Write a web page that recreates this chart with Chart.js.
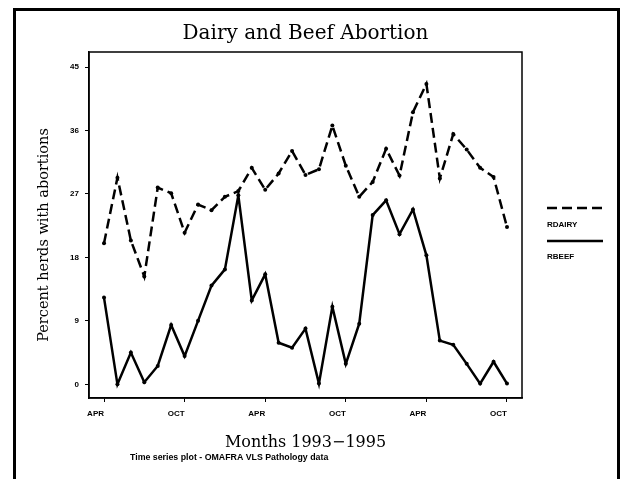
<!DOCTYPE html>
<html><head><meta charset="utf-8">
<script src="https://cdn.jsdelivr.net/npm/chart.js@4"></script>
<style>html,body{margin:0;padding:0;background:#fff;overflow:hidden}#wrap{width:623px;height:479px;position:relative}</style>
</head><body><div id="wrap"><canvas id="c" width="623" height="479"></canvas></div>
<script>
const months = ['1993-04','1993-05','1993-06','1993-07','1993-08','1993-09','1993-10','1993-11','1993-12',
  '1994-01','1994-02','1994-03','1994-04','1994-05','1994-06','1994-07','1994-08','1994-09','1994-10','1994-11','1994-12',
  '1995-01','1995-02','1995-03','1995-04','1995-05','1995-06','1995-07','1995-08','1995-09','1995-10'];
const rdairy = [20.0, 29.3, 20.4, 15.3, 27.9, 27.1, 21.5, 25.5, 24.7, 26.6, 27.4, 30.7, 27.6, 29.9, 33.1, 29.7,
  30.5, 36.7, 31.0, 26.6, 28.7, 33.4, 29.6, 38.6, 42.6, 29.2, 35.5, 33.3, 30.7, 29.4, 22.3];
const rbeef = [12.3, 0.0, 4.5, 0.3, 2.6, 8.4, 4.0, 9.0, 14.0, 16.3, 26.8, 11.9, 15.6, 5.9, 5.2, 7.9,
  0.1, 11.0, 2.9, 8.6, 24.0, 26.1, 21.3, 24.8, 18.3, 6.2, 5.6, 2.9, 0.1, 3.2, 0.1];
const yTicks = [0, 9, 18, 27, 36, 45];
const tickMonthNames = {'04': 'APR', '10': 'OCT'};
const seriesNames = ['RDAIRY', 'RBEEF'];
const titleText = 'Dairy and Beef Abortion';
const xTitle = 'Months 1993\u22121995';
const yTitle = 'Percent herds with abortions';
const footnote = 'Time series plot - OMAFRA VLS Pathology data';

const smallBold = {family: 'Liberation Sans', size: 8, weight: 'bold'};
const DASH = [10, 5];

const decor = {
  id: 'decor',
  beforeDraw(chart) {
    const ctx = chart.ctx;
    ctx.save(); ctx.fillStyle = '#fff'; ctx.fillRect(0, 0, chart.width, chart.height); ctx.restore();
  },
  afterDraw(chart) {
    const ctx = chart.ctx, a = chart.chartArea;
    ctx.save();
    ctx.strokeStyle = '#000'; ctx.fillStyle = '#000';
    // plot box
    ctx.lineWidth = 1.5;
    ctx.strokeRect(a.left, a.top, a.right - a.left, a.bottom - a.top);
    // title
    ctx.font = '20px "DejaVu Serif"';
    ctx.textAlign = 'center'; ctx.textBaseline = 'middle';
    ctx.fillText(titleText, (a.left + a.right) / 2, 34);
    // y title
    ctx.save();
    ctx.translate(44, 235); ctx.rotate(-Math.PI / 2);
    ctx.font = '14.5px "DejaVu Serif"';
    ctx.fillText(yTitle, 0, 0);
    ctx.restore();
    // legend
    const lx0 = 547, lx1 = 603;
    ctx.lineWidth = 2.5;
    ctx.setLineDash(DASH);
    ctx.beginPath(); ctx.moveTo(lx0, 208); ctx.lineTo(lx1, 208); ctx.stroke();
    ctx.setLineDash([]);
    ctx.beginPath(); ctx.moveTo(lx0, 241); ctx.lineTo(lx1, 241); ctx.stroke();
    ctx.font = 'bold 8px "Liberation Sans"';
    ctx.textAlign = 'left'; ctx.textBaseline = 'middle';
    ctx.fillText(seriesNames[0], lx0, 225);
    ctx.fillText(seriesNames[1], lx0, 257);
    // footnote
    ctx.font = 'bold 8.8px "Liberation Sans"';
    ctx.fillText(footnote, 130, 458);
    // outer frame
    ctx.lineWidth = 3;
    ctx.strokeRect(14.5, 9.5, 604, 500);
    ctx.restore();
  }
};

const pts = arr => arr.map((v, i) => ({x: i, y: v}));

new Chart(document.getElementById('c'), {
  type: 'line',
  data: {
    datasets: [
      {label: seriesNames[0], data: pts(rdairy), borderColor: '#000', backgroundColor: '#000', borderWidth: 2.5,
       borderDash: DASH, pointRadius: 2, pointBackgroundColor: '#000', pointBorderWidth: 0, tension: 0, fill: false},
      {label: seriesNames[1], data: pts(rbeef), borderColor: '#000', backgroundColor: '#000', borderWidth: 2.5,
       pointRadius: 2, pointBackgroundColor: '#000', pointBorderWidth: 0, tension: 0, fill: false}
    ]
  },
  options: {
    responsive: false, animation: false, devicePixelRatio: 1,
    layout: {padding: {left: 0, right: 101, top: 52, bottom: 0}},
    plugins: {
      legend: {display: false},
      tooltip: {enabled: false},
      title: {display: false}
    },
    scales: {
      x: {
        type: 'linear', min: -1.117, max: 31.117,
        afterBuildTicks: s => {
          s.ticks = months.map((m, i) => ({m, i}))
            .filter(o => tickMonthNames[o.m.slice(5)])
            .map(o => ({value: o.i}));
        },
        ticks: {callback: v => tickMonthNames[months[v].slice(5)], font: smallBold, color: '#000',
          padding: 7, maxRotation: 0, autoSkip: false, align: 'end'},
        grid: {drawOnChartArea: false, drawTicks: true, tickLength: 4, color: '#000', lineWidth: 1},
        border: {display: true, color: '#000', width: 1.5},
        title: {display: true, text: xTitle, color: '#000',
          font: {family: 'DejaVu Serif', size: 16, lineHeight: 1.2}, padding: {top: 0, bottom: 27}},
        afterFit: s => { s.height = 81; }
      },
      y: {
        type: 'linear', min: -1.94, max: 47.13,
        afterBuildTicks: s => { s.ticks = yTicks.map(v => ({value: v})); },
        ticks: {callback: v => String(v), font: smallBold, color: '#000', padding: 6},
        grid: {drawOnChartArea: false, drawTicks: true, tickLength: 4, color: '#000', lineWidth: 1},
        border: {display: true, color: '#000', width: 1.5},
        title: {display: false},
        afterFit: s => { s.width = 89; }
      }
    }
  },
  plugins: [decor]
});
</script>
</body></html>
